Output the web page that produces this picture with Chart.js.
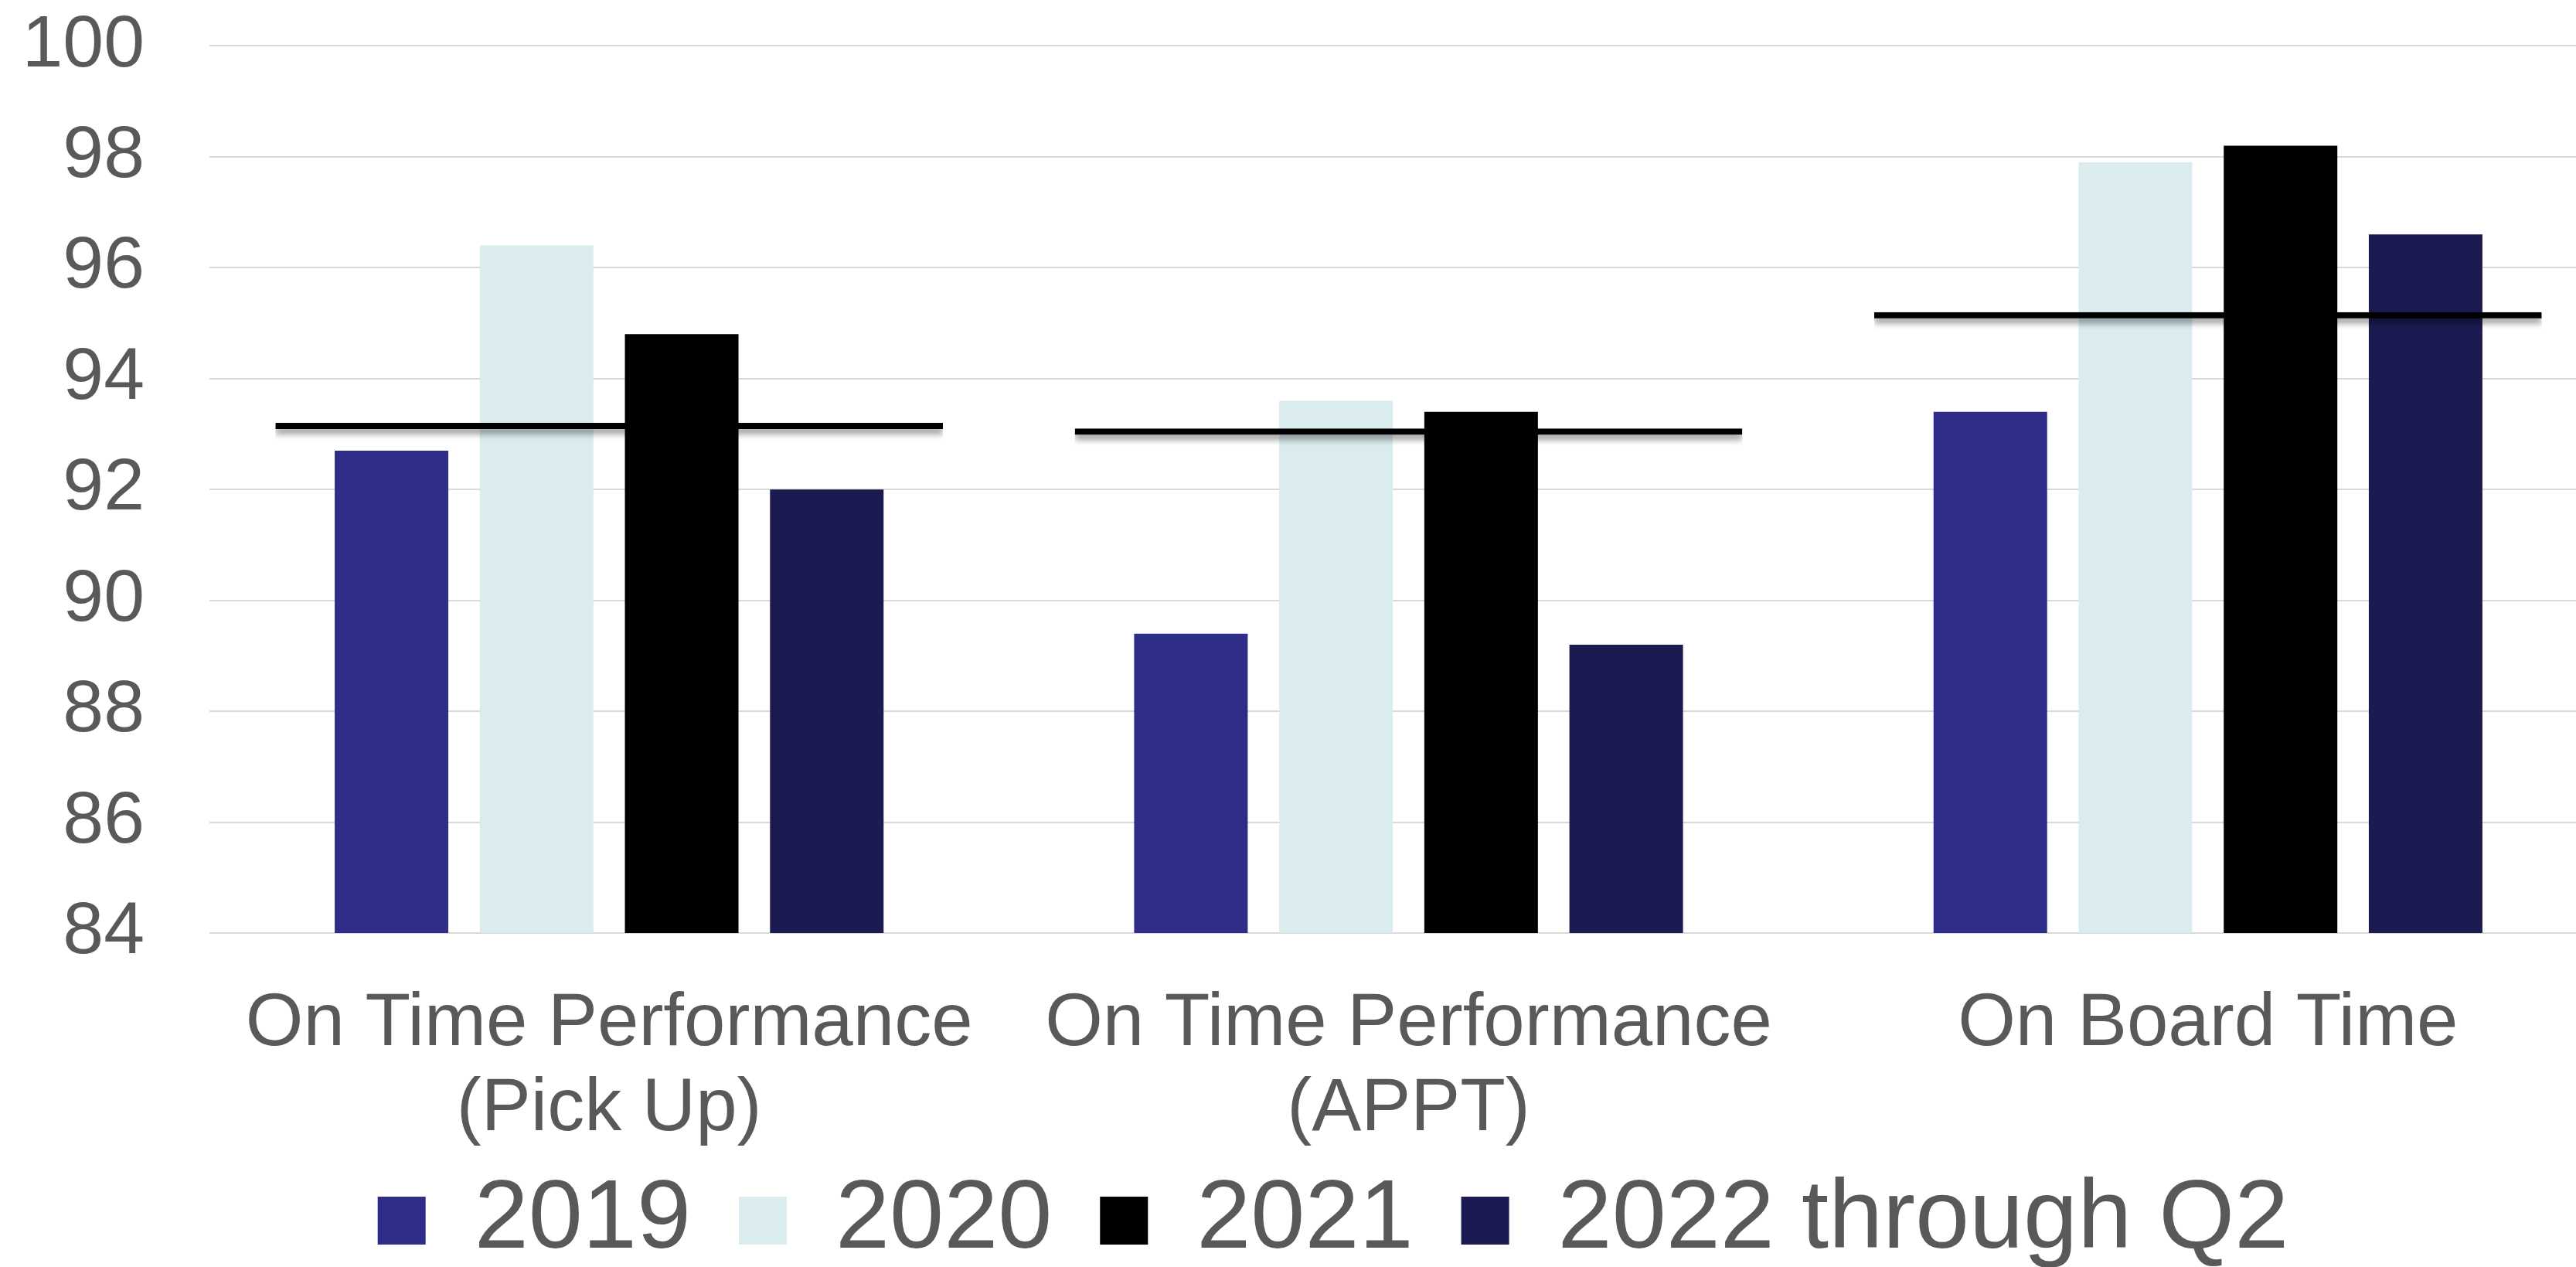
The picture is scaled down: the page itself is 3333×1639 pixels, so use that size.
<!DOCTYPE html>
<html>
<head>
<meta charset="utf-8">
<script src="https://cdn.jsdelivr.net/npm/chart.js@4/dist/chart.umd.min.js"></script>
<style>
  html, body { margin: 0; padding: 0; background: #fff; overflow: hidden; }
  /* plot runs a little past the right/bottom edge in the original, so the canvas is bigger than the window */
  #wrap { width: 3374px; height: 1654px; position: relative; }
</style>
</head>
<body>
<div id="wrap"><canvas id="otpChart"></canvas></div>
<script>
  // categories + series
  var categories = [['On Time Performance', '(Pick Up)'], ['On Time Performance', '(APPT)'], 'On Board Time'];
  var seriesNames = ['2019', '2020', '2021', '2022 through Q2'];
  var v2019 = [92.7, 89.4, 93.4];
  var v2020 = [96.4, 93.6, 97.9];
  var v2021 = [94.8, 93.4, 98.2];
  var v2022 = [92.0, 89.2, 96.6];
  var targets = [93.2, 93.1, 95.2];
  var yTicks = [84, 86, 88, 90, 92, 94, 96, 98, 100];

  var colors = ['#2E2D88', '#DAECEE', '#000000', '#1C1B51'];
  var textGray = '#595959';
  var FONT = "'Liberation Sans', Arial, sans-serif";

  // soft shadow under the target line
  var targetShadow = {
    id: 'targetShadow',
    beforeDatasetDraw: function (chart, args) {
      if (args.index !== 4) return;
      var ctx = chart.ctx;
      ctx.save();
      ctx.shadowColor = 'rgba(0,0,0,0.45)';
      ctx.shadowBlur = 8;
      ctx.shadowOffsetY = 6;
    },
    afterDatasetDraw: function (chart, args) {
      if (args.index !== 4) return;
      chart.ctx.restore();
    }
  };

  var layoutTweaks = {
    id: 'layoutTweaks',
    afterLayout: function (chart) {
      // second line of the category labels hangs below the axis box, don't clip it
      chart.scales.x.bottom += 70;
      // legend row sits a bit right of centre in the original
      chart.legend.left += 40;
    }
  };

  var barDs = [v2019, v2020, v2021, v2022].map(function (vals, i) {
    return {
      label: seriesNames[i],
      data: vals,
      backgroundColor: colors[i],
      borderWidth: 0,
      categoryPercentage: 0.726,
      barPercentage: 0.783,
      order: 1
    };
  });

  // target line = top border of an otherwise empty bar
  barDs.push({
    label: 'Target',
    data: targets,
    backgroundColor: 'rgba(0,0,0,0)',
    borderColor: '#000000',
    borderWidth: { top: 8, right: 0, bottom: 0, left: 0 },
    borderSkipped: false,
    grouped: false,
    categoryPercentage: 1,
    barPercentage: 0.835,
    order: 0
  });

  new Chart(document.getElementById('otpChart'), {
    type: 'bar',
    data: { labels: categories, datasets: barDs },
    plugins: [targetShadow, layoutTweaks],
    options: {
      responsive: true,
      maintainAspectRatio: false,
      animation: false,
      layout: { padding: { left: 36, right: 0, top: 0, bottom: 2 } },
      plugins: {
        tooltip: { enabled: false },
        legend: {
          position: 'bottom',
          labels: {
            filter: function (item) { return item.datasetIndex < 4; },
            color: textGray,
            font: { family: FONT, size: 126 },
            boxWidth: 62,
            boxHeight: 62,
            padding: 62
          }
        }
      },
      scales: {
        x: {
          grid: { display: false },
          border: { display: false },
          ticks: {
            color: textGray,
            font: { family: FONT, size: 96, lineHeight: 1.15 },
            padding: 55,
            maxRotation: 0,
            autoSkip: false
          },
          afterFit: function (scale) { scale.height = 247; }
        },
        y: {
          min: 84,
          max: 100,
          afterBuildTicks: function (scale) {
            scale.ticks = yTicks.map(function (v) { return { value: v }; });
          },
          grid: { color: '#D9D9D9', lineWidth: 2, drawTicks: true, tickLength: 84, tickColor: 'rgba(0,0,0,0)' },
          border: { display: false },
          ticks: {
            color: textGray,
            font: { family: FONT, size: 95, lineHeight: 1.25 },
            padding: 0
          },
          afterFit: function (scale) { scale.width = 235; }
        }
      }
    }
  });
</script>
</body>
</html>
